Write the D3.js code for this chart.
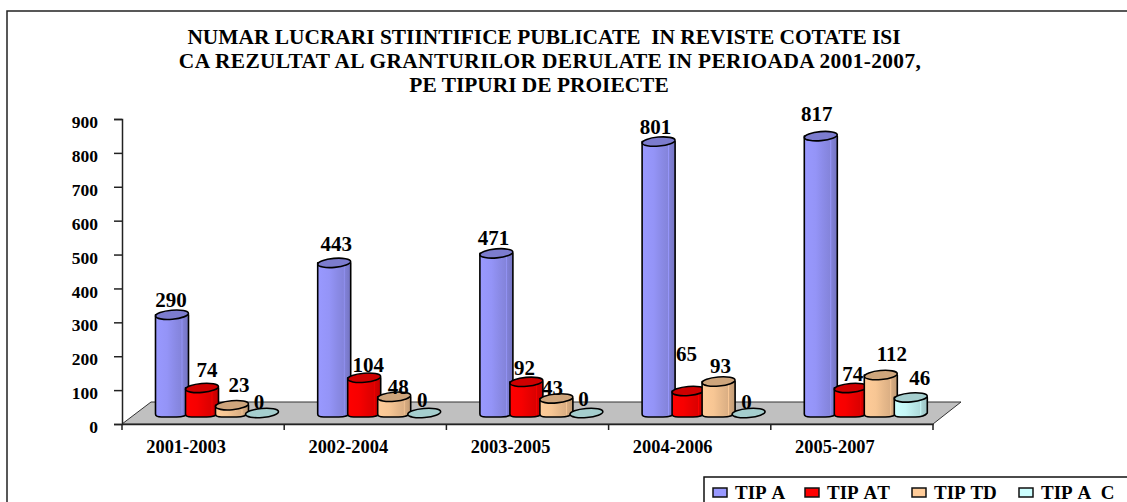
<!DOCTYPE html>
<html>
<head>
<meta charset="utf-8">
<script src="https://cdn.jsdelivr.net/npm/d3@7"></script>
<style>
    html, body { margin: 0; padding: 0; background: #fff; }
    svg { display: block; }
    text { font-family: "Liberation Serif", serif; font-weight: bold; fill: #000; white-space: pre; }
    .axis .domain, .axis .tick line { stroke: #222; stroke-width: 1.5px; }
    .axis .tick text { font-family: "Liberation Serif", serif; font-size: 17.5px; font-weight: bold; }
    .x-axis .tick text { font-size: 18.4px; }
</style>
</head>
<body>
<svg id="chart"></svg>
<script>
var titleLines = [
    "NUMAR LUCRARI STIINTIFICE PUBLICATE  IN REVISTE COTATE ISI",
    "CA REZULTAT AL GRANTURILOR DERULATE IN PERIOADA 2001-2007,",
    "PE TIPURI DE PROIECTE"
];
var categories = ["2001-2003", "2002-2004", "2003-2005", "2004-2006", "2005-2007"];
var seriesNames = ["TIP A", "TIP AT", "TIP TD", "TIP A  C"];
var tipA = [290, 443, 471, 801, 817];
var tipAT = [74, 104, 92, 65, 74];
var tipTD = [23, 48, 43, 93, 112];
var tipAC = [0, 0, 0, 0, 46];
var seriesValues = [tipA, tipAT, tipTD, tipAC];
var seriesColors = ["#9999ff", "#ff0000", "#ffcc99", "#ccffff"];
var yTicks = [0, 100, 200, 300, 400, 500, 600, 700, 800, 900];

// hand placed label offsets, one row per series
var labelDx = [
    [-1, 2, -3, -3, -4],
    [5, 4, -2, -2, 2],
    [7, 4, -4, 2, 11],
    [-3, -2, -3, -2, 9]
];
var labelDy = [
    [-8, -12, -8, -8, -15],
    [-11, -6, -7, -30, -7],
    [-13, -3, -3, -8, -14],
    [-4, -6, -7, -4, -12]
];

var width = 1127, height = 502;
var margin = { left: 122, right: 194, top: 119, bottom: 78 };
var depthX = 29, depthY = 22;
var barW = 33, capRy = 4.5;
var bottomY = height - margin.bottom;

var svg = d3.select("#chart").attr("width", width).attr("height", height);

// scales
var xBand = d3.scaleBand()
    .domain(categories)
    .range([margin.left, width - margin.right]);
var xSeries = d3.scalePoint()
    .domain(seriesNames)
    .range([50, 140]);
var y = d3.scaleLinear()
    .domain([0, 900])
    .range([bottomY, margin.top]);

// gradients
var defs = svg.append("defs");
seriesColors.forEach(function(c, i){
    var g = defs.append("linearGradient").attr("id", "body" + i);
    [[0, 1], [0.35, 0.97], [0.6, 0.9], [0.78, 0.86], [0.8, 0.98], [0.83, 0.84], [1, 0.76]].forEach(function(s){
        var col = d3.rgb(c);
        g.append("stop")
            .attr("offset", s[0])
            .attr("stop-color", d3.rgb(col.r * s[1], col.g * s[1], col.b * s[1]).formatHex());
    });
});

// outer frame runs off the page on the right and bottom
svg.append("rect")
    .attr("x", 7).attr("y", 11)
    .attr("width", width + 20).attr("height", height + 20)
    .attr("fill", "none").attr("stroke", "#222").attr("stroke-width", 1.5);

// title, the lines are not quite centred on each other in the original
var titleX = [544, 550, 539];
var titleSpacing = [0, 0.36, 0];
svg.append("g").selectAll("text").data(titleLines).enter().append("text")
    .attr("x", function(d, i){ return titleX[i]; })
    .attr("y", function(d, i){ return 44 + i * 24; })
    .attr("text-anchor", "middle")
    .attr("font-size", 21.4)
    .attr("letter-spacing", function(d, i){ return titleSpacing[i]; })
    .text(function(d){ return d; });

// floor
var xL = margin.left, xR = width - margin.right;
svg.append("path")
    .attr("d", "M" + xL + "," + bottomY +
        "L" + (xL + depthX) + "," + (bottomY - depthY) +
        "L" + (xR + depthX - 1) + "," + (bottomY - depthY) +
        "L" + xR + "," + bottomY + "Z")
    .attr("fill", "#c0c0c0")
    .attr("stroke", "#333")
    .attr("stroke-width", 1);

// axes
var yAxis = d3.axisLeft(y).tickValues(yTicks).tickSize(8).tickPadding(16);
var yAxisG = svg.append("g").attr("class", "axis")
    .attr("transform", "translate(" + margin.left + ",0)")
    .call(yAxis);
yAxisG.selectAll(".tick text").attr("y", 3);

var xAxis = d3.axisBottom(xBand).tickSize(0).tickPadding(16);
var xAxisG = svg.append("g").attr("class", "axis x-axis")
    .attr("transform", "translate(0," + bottomY + ")")
    .call(xAxis);
xAxisG.selectAll(".tick text").attr("dx", -17);

// category ticks sit on the band edges
xAxisG.selectAll("line.edge")
    .data([categories[0]].concat(categories))
    .enter().append("line")
    .attr("class", "edge")
    .attr("x1", function(d, i){ return i === 0 ? xBand(d) : xBand(d) + xBand.step(); })
    .attr("x2", function(d, i){ return i === 0 ? xBand(d) : xBand(d) + xBand.step(); })
    .attr("y1", 0).attr("y2", 6)
    .attr("stroke", "#222").attr("stroke-width", 1.5);

// bars
var barsG = svg.append("g");
categories.forEach(function(cat, ci){
    seriesNames.forEach(function(name, si){
        var v = seriesValues[si][ci];
        var cx = xBand(cat) + xSeries(name);
        var topY = y(v) - 11;
        var baseY = y(0) - 8;
        var x0 = cx - barW / 2, x1 = cx + barW / 2;
        var g = barsG.append("g");

        if (v > 0) {
            g.append("path")
                .attr("d", "M" + x0 + "," + topY +
                    "L" + x0 + "," + (baseY - 2) +
                    "Q" + x0 + "," + (baseY + 1) + " " + (x0 + 6) + "," + (baseY + 1) +
                    "L" + (x1 - 12) + "," + (baseY + 1) +
                    "Q" + (x1 - 3) + "," + (baseY + 1) + " " + x1 + "," + (baseY - 3) +
                    "L" + x1 + "," + topY + "Z")
                .attr("fill", "url(#body" + si + ")")
                .attr("stroke", "#000")
                .attr("stroke-width", 1.6)
                .attr("stroke-linejoin", "round");
        }

        g.append("ellipse")
            .attr("cx", cx).attr("cy", topY)
            .attr("rx", barW / 2).attr("ry", capRy)
            .attr("transform", "rotate(-5 " + cx + " " + topY + ")")
            .attr("fill", d3.rgb(seriesColors[si]).darker(0.6).formatHex())
            .attr("stroke", "#000")
            .attr("stroke-width", 1.6);

        g.append("text")
            .attr("x", cx + labelDx[si][ci])
            .attr("y", topY + labelDy[si][ci])
            .attr("text-anchor", "middle")
            .attr("font-size", 21)
            .text(v);
    });
});

// legend
var legendX = [713, 805, 912, 1019];
svg.append("rect")
    .attr("x", 704).attr("y", 477)
    .attr("width", 440).attr("height", 40)
    .attr("fill", "#fff").attr("stroke", "#111").attr("stroke-width", 1.5);
var legendG = svg.append("g").selectAll("g").data(seriesNames).enter().append("g")
    .attr("transform", function(d, i){ return "translate(" + legendX[i] + ",488)"; });
legendG.append("rect")
    .attr("width", 14).attr("height", 9)
    .attr("fill", function(d, i){ return seriesColors[i]; })
    .attr("stroke", "#111").attr("stroke-width", 1.5);
legendG.append("text")
    .attr("x", 22).attr("y", 11)
    .attr("font-size", 19)
    .style("font-kerning", "none")
    .text(function(d){ return d; });
</script>
</body>
</html>
